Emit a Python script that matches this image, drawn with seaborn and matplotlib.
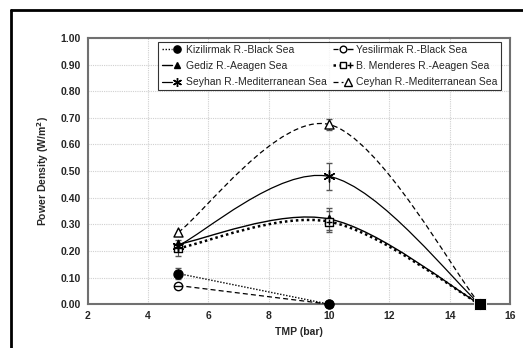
import numpy as np
import pandas as pd
import seaborn as sns
import matplotlib
matplotlib.use("Agg")
from matplotlib import pyplot as plt
from matplotlib.path import Path
from matplotlib.patches import PathPatch
from matplotlib.lines import Line2D
from matplotlib.legend_handler import HandlerTuple

# values
series = ['Kizilirmak R.-Black Sea', 'Yesilirmak R.-Black Sea',
          'Gediz R.-Aeagen Sea', 'B. Menderes R.-Aeagen Sea',
          'Seyhan R.-Mediterranean Sea', 'Ceyhan R.-Mediterranean Sea']
tmp_x = {
    'Kizilirmak R.-Black Sea': [5, 10],
    'Yesilirmak R.-Black Sea': [5, 10],
    'Gediz R.-Aeagen Sea': [5, 10, 15],
    'B. Menderes R.-Aeagen Sea': [5, 10, 15],
    'Seyhan R.-Mediterranean Sea': [5, 10, 15],
    'Ceyhan R.-Mediterranean Sea': [5, 10, 15],
}
power = {
    'Kizilirmak R.-Black Sea': [0.115, 0.0],
    'Yesilirmak R.-Black Sea': [0.07, 0.0],
    'Gediz R.-Aeagen Sea': [0.225, 0.32, 0.0],
    'B. Menderes R.-Aeagen Sea': [0.21, 0.31, 0.0],
    'Seyhan R.-Mediterranean Sea': [0.22, 0.48, 0.0],
    'Ceyhan R.-Mediterranean Sea': [0.27, 0.675, 0.0],
}
err = {
    'Kizilirmak R.-Black Sea': [0.02, 0.0],
    'Yesilirmak R.-Black Sea': [0.0, 0.0],
    'Gediz R.-Aeagen Sea': [0.0, 0.04, 0.0],
    'B. Menderes R.-Aeagen Sea': [0.03, 0.04, 0.0],
    'Seyhan R.-Mediterranean Sea': [0.0, 0.05, 0.0],
    'Ceyhan R.-Mediterranean Sea': [0.0, 0.02, 0.0],
}

# style per series: line style, width, marker layers (marker, size, face, edge)
styles = {
    'Kizilirmak R.-Black Sea': ((0, (1, 1.2)), 1.0, [('o', 6.5, 'black', 'black')]),
    'Yesilirmak R.-Black Sea': ((0, (4, 2.5)), 0.9, [('o', 6, 'white', 'black'), ('_', 6, 'black', 'black')]),
    'Gediz R.-Aeagen Sea': ('-', 1.0, [('^', 6, 'black', 'black')]),
    'B. Menderes R.-Aeagen Sea': ((0, (1, 1.2)), 1.8, [('s', 6, 'white', 'black'), ('+', 5, 'black', 'black')]),
    'Seyhan R.-Mediterranean Sea': ('-', 0.9, [((6, 2, 0), 8, 'black', 'black')]),
    'Ceyhan R.-Mediterranean Sea': ((0, (4, 2.5)), 0.9, [('^', 6.5, 'white', 'black')]),
}
marker_z = {'Kizilirmak R.-Black Sea': 7}


def smooth_path(xs, ys):
    # Excel-like smoothed line: cubic bezier with catmull-rom tangents
    pts = np.column_stack([xs, ys]).astype(float)
    verts = [pts[0]]
    codes = [Path.MOVETO]
    n = len(pts)
    for i in range(n - 1):
        p0 = pts[max(i - 1, 0)]
        p1 = pts[i]
        p2 = pts[i + 1]
        p3 = pts[min(i + 2, n - 1)]
        c1 = p1 + (p2 - p0) / 6.0
        c2 = p2 - (p3 - p1) / 6.0
        verts += [c1, c2, p2]
        codes += [Path.CURVE4] * 3
    return Path(verts, codes)


sns.set_style("whitegrid")
plt.rcParams['font.family'] = ['Liberation Sans', 'DejaVu Sans']

fig, ax = plt.subplots(figsize=(5.23, 3.48), dpi=100)
fig.subplots_adjust(left=0.168, right=0.975, bottom=0.126, top=0.891)

handles = {}
for name in series:
    ls, lw, layers = styles[name]
    df = pd.DataFrame({'x': tmp_x[name], 'y': power[name], 'e': err[name]})
    ax.add_patch(PathPatch(smooth_path(df['x'], df['y']), fill=False,
                           edgecolor='black', linestyle=ls, linewidth=lw, zorder=3))
    has_err = df['e'] > 0
    if has_err.any():
        ax.errorbar(df['x'][has_err], df['y'][has_err], yerr=df['e'][has_err],
                    fmt='none', ecolor='#555555', elinewidth=0.8, capsize=2, zorder=4)
    z = marker_z.get(name, 5)
    for m, s, fc, ec in layers:
        sns.scatterplot(data=df, x='x', y='y', marker=m, s=s ** 2, color=fc,
                        edgecolor=ec, linewidth=1.0, ax=ax, zorder=z, legend=False,
                        clip_on=False)
        z += 0.1
    parts = [Line2D([], [], color='black', linestyle=ls, linewidth=lw)]
    for m, s, fc, ec in layers:
        parts.append(Line2D([], [], linestyle='none', marker=m, markersize=s * 0.8,
                            markerfacecolor=fc, markeredgecolor=ec, markeredgewidth=1.0))
    handles[name] = tuple(parts)

# end point at 15 bar
sns.scatterplot(x=[15], y=[0.0], marker='s', s=64, color='black', ax=ax, zorder=6,
                legend=False, clip_on=False)

ax.set_xlim(2, 16)
ax.set_ylim(0, 1.0)
ax.set_xticks(range(2, 17, 2))
ax.set_yticks(np.arange(0, 1.01, 0.1))
ax.set_yticklabels([f'{v:.2f}' for v in np.arange(0, 1.01, 0.1)])
ax.tick_params(axis='both', labelsize=7.5, length=0, pad=5)
for lab in ax.get_xticklabels() + ax.get_yticklabels():
    lab.set_fontweight('bold')
ax.set_xlabel('TMP (bar)', fontsize=7.5, fontweight='bold', labelpad=4)
ax.set_ylabel('Power Density (W/m$^\\mathbf{2}$)', fontsize=7.5, fontweight='bold', labelpad=7)

ax.grid(True, color='#d0d0d0', linestyle=(0, (1, 1)), linewidth=0.8)
for sp in ax.spines.values():
    sp.set_color('#707070')
    sp.set_linewidth(1.5)

# legend filled row by row (matplotlib fills columns, so reorder)
leg_order = series[0::2] + series[1::2]
leg = ax.legend([handles[n] for n in leg_order], leg_order, loc='upper center',
                bbox_to_anchor=(0.573, 1.0), ncol=2, fontsize=7.5, frameon=True,
                fancybox=False, edgecolor='black',
                handler_map={tuple: HandlerTuple(ndivide=None, pad=0)},
                handlelength=2.0, handletextpad=0.3, columnspacing=0.6,
                labelspacing=0.6, borderpad=0.3, borderaxespad=0.35)
leg.get_frame().set_linewidth(0.8)

# outer frame of the pasted figure (left and top edges only)
fig.add_artist(Line2D([0.021, 0.021], [0.0, 0.972], color='black', linewidth=2,
                      transform=fig.transFigure))
fig.add_artist(Line2D([0.021, 1.0], [0.972, 0.972], color='black', linewidth=2,
                      transform=fig.transFigure))

fig.savefig('out.png', dpi=100)
